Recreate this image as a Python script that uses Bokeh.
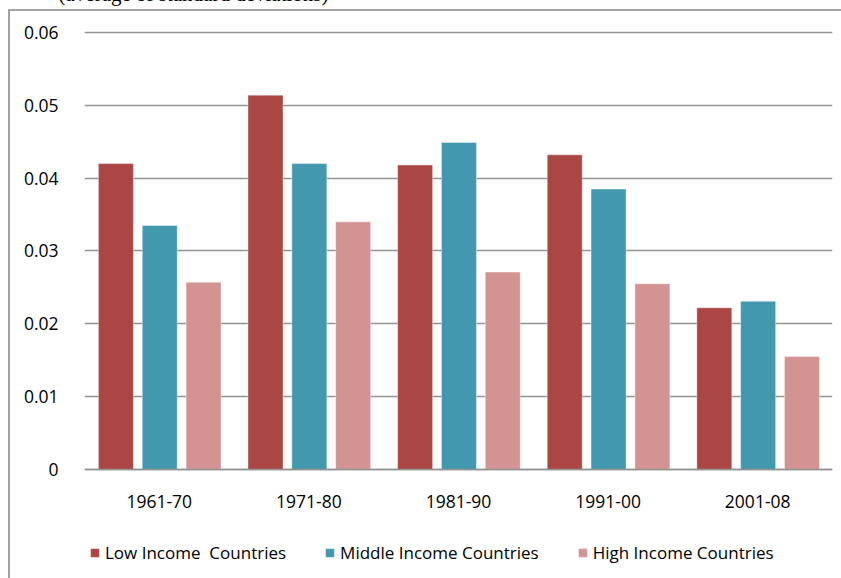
from bokeh.plotting import figure
from bokeh.models import (ColumnDataSource, FactorRange, FixedTicker, Legend,
                          LegendItem, Label)
from bokeh.transform import dodge
from bokeh.embed import file_html
from bokeh.resources import INLINE

# Decades and the average growth volatility per income group
periods = ["1961-70", "1971-80", "1981-90", "1991-00", "2001-08"]
low_income = [0.0420, 0.0514, 0.0418, 0.0432, 0.0222]
middle_income = [0.0335, 0.0420, 0.0449, 0.0385, 0.0231]
high_income = [0.0257, 0.0340, 0.0271, 0.0255, 0.0155]

series_names = ["Low Income  Countries", "Middle Income Countries", "High Income Countries"]
series_colors = ["#AA4644", "#4298AF", "#D39392"]

y_ticks = [0, 0.01, 0.02, 0.03, 0.04, 0.05, 0.06]
y_tick_labels = ["0", "0.01", "0.02", "0.03", "0.04", "0.05", "0.06"]

source = ColumnDataSource(data=dict(period=periods, low=low_income,
                                    mid=middle_income, high=high_income))

FONT = "Open Sans"
GRID = "#929292"
BOX = "#a3a3a3"

# the plotting area runs down to the bottom edge so that the category
# labels and the legend sit inside it, below the zero line
p = figure(width=841, height=578, x_range=FactorRange(factors=periods, range_padding=0),
           y_range=(-0.01497, 0.06055), output_backend="svg", toolbar_location=None,
           min_border_left=84, min_border_right=9, min_border_top=28,
           min_border_bottom=0)
p.outline_line_color = None
p.background_fill_color = "white"
p.border_fill_color = None
# thin grey box framing the chart (top and left edges)
p.styles = {
    "background-color": "white",
    "background-image": f"linear-gradient({BOX}, {BOX}), linear-gradient({BOX}, {BOX})",
    "background-size": "832px 2px, 2px 569px",
    "background-position": "9px 9px, 8px 9px",
    "background-repeat": "no-repeat",
}

offsets = [-0.29, 0.003, 0.296]
renderers = []
for col, off, color in zip(["low", "mid", "high"], offsets, series_colors):
    r = p.vbar(x=dodge("period", off, range=p.x_range), top=col, width=0.234,
               bottom=0, source=source, fill_color=color, line_color="white",
               line_alpha=0.4, line_width=1)
    renderers.append(r)

# y axis: labels only, grid lines across the plot
p.yaxis.ticker = FixedTicker(ticks=y_ticks)
p.yaxis.major_label_overrides = {t: s for t, s in zip(y_ticks, y_tick_labels)}
p.yaxis.axis_line_color = None
p.yaxis.major_tick_line_color = None
p.yaxis.minor_tick_line_color = None
p.yaxis.major_label_standoff = 20
p.yaxis.major_label_text_font = FONT
p.yaxis.major_label_text_font_size = "17.5px"
p.yaxis.major_label_text_color = "black"

p.ygrid.ticker = FixedTicker(ticks=y_ticks)
p.ygrid.grid_line_color = GRID
p.ygrid.grid_line_width = 1.4
p.xgrid.grid_line_color = None

# category axis drawn along the zero line
p.xaxis.fixed_location = 0
p.xaxis.axis_line_color = GRID
p.xaxis.axis_line_width = 1.4
p.xaxis.major_tick_line_color = None
p.xaxis.minor_tick_line_color = None
p.xaxis.major_label_standoff = 20
p.xaxis.major_label_text_font = FONT
p.xaxis.major_label_text_font_size = "17.5px"
p.xaxis.major_label_text_color = "black"

# legend row under the category labels
legend = Legend(items=[LegendItem(label=n, renderers=[r]) for n, r in zip(series_names, renderers)],
                location=(5, 14), orientation="horizontal", glyph_width=11,
                glyph_height=11, label_standoff=5, padding=0, margin=0, spacing=38,
                border_line_color=None, background_fill_alpha=0,
                label_text_font=FONT, label_text_font_size="17px",
                label_text_color="black", label_height=11)
p.add_layout(legend, "center")

# caption line above the chart box
p.add_layout(Label(x=-26, y=35, x_units="screen", y_units="screen",
                   text="(average of standard deviations)",
                   text_font="Liberation Serif", text_font_size="21px",
                   text_baseline="alphabetic", text_color="black"), "above")

open("out.html", "w").write(file_html(p, INLINE))
